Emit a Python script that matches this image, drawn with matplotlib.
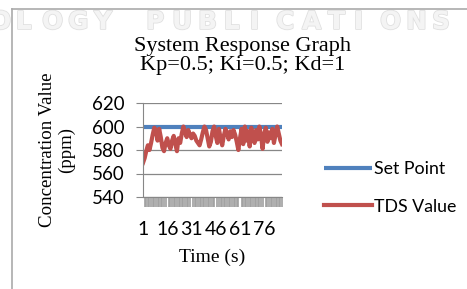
import matplotlib
matplotlib.use('Agg')
import matplotlib.pyplot as plt
from matplotlib.lines import Line2D
import matplotlib.patheffects as pe
import numpy as np

# data (one value per second, 87 samples)
tds_value = [
    569, 573, 579, 584, 580, 586, 593, 599, 597, 588,
    598, 591, 582, 579, 586, 590, 584, 581, 588, 592,
    585, 579, 590, 586, 594, 600, 595, 591, 597, 593,
    590, 594, 592, 588, 586, 584, 589, 595, 600, 597,
    590, 583, 587, 596, 600, 592, 586, 598, 590, 584,
    592, 598, 594, 589, 596, 591, 597, 593, 587, 580,
    590, 598, 585, 600, 588, 596, 583, 599, 591, 586,
    597, 589, 600, 592, 581, 594, 599, 587, 595, 590,
    598, 586, 593, 600, 594, 588, 585,
]
set_point = [600] * len(tds_value)
time_labels = [str(i + 1) for i in range(len(tds_value))]
y_ticks = [540, 560, 580, 600, 620]

W, H = 467, 289
fig = plt.figure(figsize=(W / 100, H / 100), dpi=100)

# faint watermark + chart frame
wm = 'OLOGY PUBLICATIONS'
for i, ch in enumerate(wm):
    fig.text((-10 + 26 * i) / W, 1 - 22 / H, ch, fontsize=18, fontweight='bold',
             color='#F4F4F4', va='center', ha='left', family='DejaVu Sans', zorder=0,
             path_effects=[pe.withStroke(linewidth=1.2, foreground='#E0E0E0')])
fig.add_artist(Line2D([12 / W, 12 / W], [0, 1 - 9 / H], color='#AAAAAA', lw=1.2))
fig.add_artist(Line2D([12 / W, 1], [1 - 9 / H, 1 - 9 / H], color='#AAAAAA', lw=1.2))

ax = fig.add_axes([143 / W, 1 - 197 / H, 139 / W, 94 / H])
x = np.arange(len(tds_value))
ax.plot(x, set_point, color='#4F81BD', lw=3, label='Set Point', solid_capstyle='butt')
ax.plot(x, tds_value, color='#C0504D', lw=3, label='TDS Value')

ax.set_xlim(0, len(tds_value) - 1)
ax.set_ylim(540, 620)
ax.set_yticks(y_ticks)
ax.grid(axis='y', color='#878787', lw=0.9)
ax.set_axisbelow(True)
for s in ['top', 'right']:
    ax.spines[s].set_visible(False)
ax.spines['left'].set_color('#878787')
ax.spines['bottom'].set_color('#878787')

major = x[::15]
ax.set_xticks(major)
ax.set_xticklabels([time_labels[i] for i in major])
ax.set_xticks(x, minor=True)
ax.tick_params(axis='x', which='major', length=0, pad=17, labelsize=14)
ax.tick_params(axis='x', which='minor', length=7, width=1.2, color='#A0A0A0')
ax.tick_params(axis='y', length=5, color='#878787', labelsize=13.5, pad=8)
for lab in ax.get_xticklabels() + ax.get_yticklabels():
    lab.set_family('Lato')

# title is centred on the whole chart area, not on the plot box
ax.set_title('System Response Graph\nKp=0.5; Ki=0.5; Kd=1', family='Liberation Serif',
             fontsize=16, linespacing=1.0, pad=24, x=(243 - 143) / 139)
ax.set_xlabel('Time (s)', family='Liberation Serif', fontsize=14, labelpad=8)
ax.set_ylabel('Concentration Value\n(ppm)', family='Liberation Serif', fontsize=13.6,
              linespacing=1.15, labelpad=12)

ax.legend(loc='center left', bbox_to_anchor=(308 / W, 1 - 188 / H),
          bbox_transform=fig.transFigure, frameon=False, handlelength=2.7,
          handletextpad=0.1, labelspacing=1.2, prop={'family': 'Lato', 'size': 12.8})

fig.savefig('out.png', dpi=100)
